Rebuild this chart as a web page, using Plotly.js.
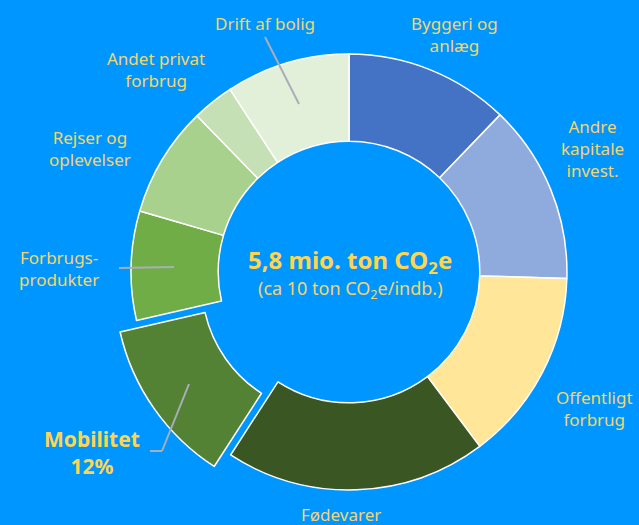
<!DOCTYPE html>
<html>
<head>
<meta charset="utf-8">
<script src="https://cdn.plot.ly/plotly-3.0.1.min.js"></script>
<style>html,body{margin:0;padding:0;background:#0096FF;}</style>
</head>
<body>
<div id="chart" style="width:639px;height:525px;"></div>
<script>
// Data (share of total, %), clockwise from 12 o'clock
const categories = ["Byggeri og anlæg", "Andre kapitale invest.", "Offentligt forbrug", "Fødevarer", "Mobilitet", "Forbrugsprodukter", "Rejser og oplevelser", "Andet privat forbrug", "Drift af bolig"];
const shares = [12.2, 13.3, 14.3, 19.4, 12.3, 8.1, 8.2, 3.1, 9.2];
const sliceColors = ["#4472C4", "#8FAADC", "#FFE699", "#3A5723", "#548235", "#70AD47", "#A9D18E", "#C5E0B4", "#E2F0D9"];
const pulls = [0, 0, 0, 0, 0.092, 0, 0, 0, 0];
const labelTexts = ["Byggeri og<br>anlæg", "Andre<br>kapitale<br>invest.", "Offentligt<br>forbrug", "Fødevarer", "<b>Mobilitet<br>12%</b>", "Forbrugs-<br>produkter", "Rejser og<br>oplevelser", "Andet privat<br>forbrug", "Drift af bolig"];
const centerTitle = "<b>5,8 mio. ton CO<sub>2</sub>e</b>";
const centerSub = "(ca 10 ton CO<sub>2</sub>e/indb.)";

const W = 639, H = 525;
const px = (x) => x / W;
const py = (y) => 1 - y / H;

// label anchor positions in pixels
const labelPos = [[455, 34], [592, 149], [594, 408], [341, 514], [92, 452], [59, 268], [90, 149], [156, 69], [265, 23]];
const labelSizes = [17, 17, 17, 17, 21, 17, 17, 17, 17];
const labelColor = "#F5D46B";
const FONT = "'Noto Sans', 'Open Sans', sans-serif";

const annotations = labelTexts.map((t, i) => ({
  text: t, xref: "paper", yref: "paper",
  x: px(labelPos[i][0]), y: py(labelPos[i][1]),
  xanchor: "center", yanchor: "middle", showarrow: false, align: "center",
  font: {family: FONT, size: labelSizes[i], color: i === 4 ? "#FFD54F" : labelColor}
}));
annotations.push({text: centerTitle, xref: "paper", yref: "paper", x: px(350), y: py(261), xanchor: "center", yanchor: "middle", showarrow: false,
  font: {family: FONT, size: 24, color: "#FFD54F"}});
annotations.push({text: centerSub, xref: "paper", yref: "paper", x: px(350), y: py(289), xanchor: "center", yanchor: "middle", showarrow: false,
  font: {family: FONT, size: 18, color: labelColor}});

const leaderColor = "#A9AEB8";
const seg = (x0, y0, x1, y1) => ({type: "line", xref: "paper", yref: "paper", x0: px(x0), y0: py(y0), x1: px(x1), y1: py(y1), line: {color: leaderColor, width: 2}});
const shapes = [
  seg(265, 37, 299, 104),
  seg(119, 268, 174, 267),
  seg(150, 451, 162, 451),
  seg(162, 451, 189, 384)
];

const trace = {
  type: "pie",
  labels: categories,
  values: shares,
  hole: 0.6,
  sort: false,
  direction: "clockwise",
  rotation: 0,
  pull: pulls,
  marker: {colors: sliceColors, line: {color: "#FFFFFF", width: 1.5}},
  textinfo: "none",
  hoverinfo: "label+percent",
  showlegend: false,
  domain: {x: [px(111), px(587)], y: [py(510), py(34)]}
};

const layout = {
  width: W, height: H,
  margin: {l: 0, r: 0, t: 0, b: 0},
  paper_bgcolor: "#0096FF",
  plot_bgcolor: "#0096FF",
  showlegend: false,
  annotations: annotations,
  shapes: shapes
};

Plotly.newPlot("chart", [trace], layout, {displayModeBar: false, staticPlot: true});
</script>
</body>
</html>
